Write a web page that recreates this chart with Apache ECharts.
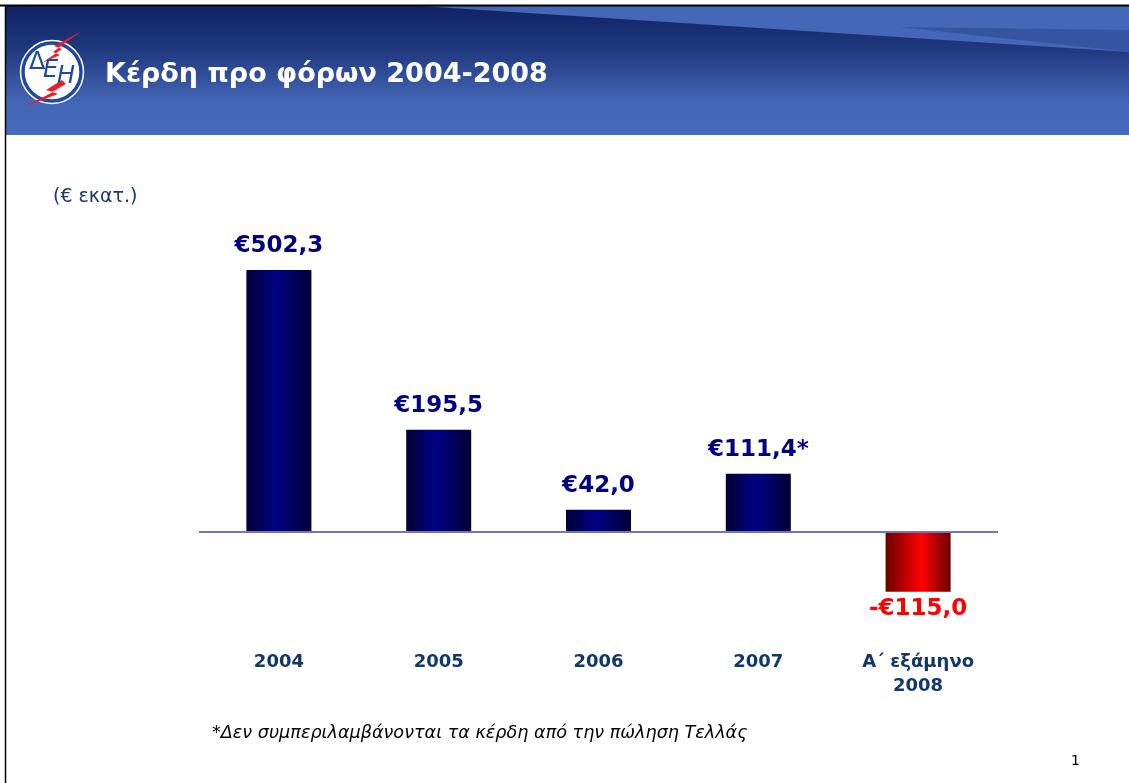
<!DOCTYPE html>
<html>
<head>
<meta charset="utf-8">
<script src="https://cdn.jsdelivr.net/npm/echarts@6/dist/echarts.min.js"></script>
<style>
  html, body { margin: 0; padding: 0; background: #fff; }
  #chart { width: 1129px; height: 783px; }
</style>
</head>
<body>
<div id="chart"></div>
<script>
// data
var categories = ['2004', '2005', '2006', '2007', 'Α΄ εξάμηνο\n2008'];
var values = [502.3, 195.5, 42.0, 111.4, -115.0];
var valueLabels = ['€502,3', '€195,5', '€42,0', '€111,4*', '-€115,0'];

var myChart = echarts.init(document.getElementById('chart'));

function barFill(neg) {
    if (neg) {
        return new echarts.graphic.LinearGradient(0, 0, 1, 0, [
            {offset: 0, color: '#6a0000'},
            {offset: 0.55, color: '#ff0000'},
            {offset: 1, color: '#6a0000'}
        ]);
    }
    return new echarts.graphic.LinearGradient(0, 0, 1, 0, [
        {offset: 0, color: '#000035'},
        {offset: 0.45, color: '#000085'},
        {offset: 1, color: '#000035'}
    ]);
}

var barData = values.map(function (v, i) {
    var neg = v < 0;
    return {
        value: v,
        itemStyle: {color: barFill(neg)},
        label: {
            show: true,
            position: neg ? 'bottom' : 'top',
            distance: neg ? 6 : 12,
            formatter: valueLabels[i],
            color: neg ? '#ff0000' : '#000080',
            fontFamily: 'DejaVu Sans',
            fontWeight: 'bold',
            fontSize: 23
        }
    };
});

var logoBlue = '#1d4aa0';

var option = {
    backgroundColor: '#ffffff',
    animation: false,
    grid: {left: 199, right: 131, top: 219, height: 417, outerBoundsMode: 'none', containLabel: false},
    xAxis: {
        type: 'category',
        data: categories,
        axisLine: {show: false},
        axisTick: {show: false},
        axisLabel: {
            margin: 14,
            color: '#10386b',
            fontFamily: 'DejaVu Sans',
            fontWeight: 'bold',
            fontSize: 18,
            lineHeight: 24
        }
    },
    yAxis: {
        type: 'value',
        min: -200,
        max: 600,
        show: false,
        splitLine: {show: false}
    },
    series: [{
        type: 'bar',
        barWidth: 65,
        data: barData,
        markLine: {
            silent: true,
            symbol: 'none',
            label: {show: false},
            lineStyle: {color: '#7474bc', width: 2, type: 'solid'},
            data: [{yAxis: 0}]
        }
    }],
    graphic: [
        // header band
        {
            type: 'rect', left: 5, top: 6, z: 0,
            shape: {width: 1124, height: 129},
            style: {
                fill: new echarts.graphic.LinearGradient(0, 0, 0, 1, [
                    {offset: 0, color: '#0f2263'},
                    {offset: 0.35, color: '#213a80'},
                    {offset: 0.75, color: '#4466b6'},
                    {offset: 1, color: '#4669bc'}
                ])
            }
        },
        {
            type: 'polygon', z: 1,
            shape: {points: [[420, 6], [1129, 6], [1129, 52]]},
            style: {fill: '#4567b7'}
        },
        {
            type: 'polygon', z: 1,
            shape: {points: [[900, 27], [1129, 30], [1129, 52]]},
            style: {fill: '#2c4a94', opacity: 0.6}
        },
        // frame lines
        {type: 'line', z: 2, shape: {x1: 0, y1: 5.5, x2: 1129, y2: 5.5}, style: {stroke: '#000', lineWidth: 2}},
        {type: 'line', z: 2, shape: {x1: 5.5, y1: 5, x2: 5.5, y2: 783}, style: {stroke: '#000', lineWidth: 1.5}},
        // logo
        {
            type: 'circle', z: 3,
            shape: {cx: 52, cy: 72, r: 29},
            style: {fill: '#ffffff', stroke: logoBlue, lineWidth: 3.5}
        },
        {
            type: 'circle', z: 3,
            shape: {cx: 52, cy: 72, r: 31.5},
            style: {fill: null, stroke: '#ffffff', lineWidth: 1.5}
        },
        {
            type: 'polygon', z: 4,
            shape: {points: [[82, 31], [54, 46], [62, 49], [42, 63], [60, 55], [53, 52], [72, 38]]},
            style: {fill: '#ee1c25'}
        },
        {
            type: 'polygon', z: 4,
            shape: {points: [[62, 80], [46, 90], [53, 92], [24, 107], [58, 94], [52, 92], [66, 84]]},
            style: {fill: '#ee1c25'}
        },
        {
            type: 'text', z: 5, left: 29, top: 51,
            style: {text: 'Δ', fill: logoBlue, font: '24px "DejaVu Sans"'}
        },
        {
            type: 'text', z: 5, left: 43, top: 59,
            style: {text: 'Ε', fill: logoBlue, font: 'italic 24px "DejaVu Sans"'}
        },
        {
            type: 'text', z: 5, left: 57, top: 65,
            style: {text: 'Η', fill: logoBlue, font: 'italic 24px "DejaVu Sans"'}
        },
        // title
        {
            type: 'text', z: 5, left: 105, top: 61,
            style: {
                text: 'Κέρδη προ φόρων 2004-2008',
                fill: '#ffffff',
                font: 'bold 27px "DejaVu Sans"',
                shadowColor: 'rgba(0,0,0,0.7)',
                shadowOffsetX: 2,
                shadowOffsetY: 2,
                shadowBlur: 2
            }
        },
        // unit
        {
            type: 'text', left: 53, top: 188,
            style: {text: '(€ εκατ.)', fill: '#1c3864', font: '19px "DejaVu Sans"'}
        },
        // footnote
        {
            type: 'text', left: 212, top: 724,
            style: {text: '*Δεν συμπεριλαμβάνονται τα κέρδη από την πώληση Τελλάς', fill: '#000', font: 'italic 17.6px "DejaVu Sans"'}
        },
        {
            type: 'text', left: 1071, top: 754,
            style: {text: '1', fill: '#000', font: '14px "DejaVu Sans"'}
        }
    ]
};

myChart.setOption(option);
window.addEventListener('resize', function () {
    myChart.resize();
});
</script>
</body>
</html>
